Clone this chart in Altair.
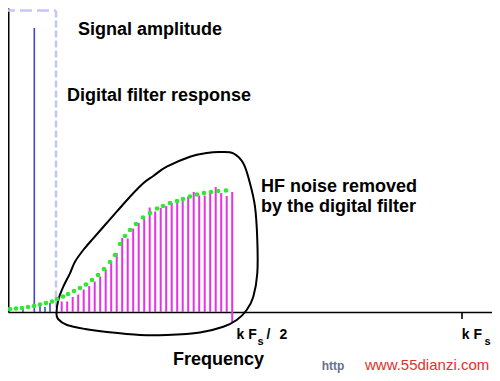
import altair as alt
import pandas as pd

# ---- data (frequency in arbitrary units, amplitude above baseline) ----
bar_freq = [61.7, 67.2, 72.7, 78.2, 83.7, 89.2, 94.7, 100.2, 105.7, 111.2, 116.7,
            122.2, 127.7, 133.2, 138.7, 144.2, 149.7, 155.2, 160.7, 166.2, 171.7,
            177.2, 182.7, 188.2, 193.7, 199.2, 204.7, 210.2, 215.7, 221.2, 226.7, 232.2]
bar_amp = [10.5, 10.5, 15, 17.5, 22.5, 26, 30.5, 35.5, 42.5, 50.5, 59,
           74, 73.5, 83.5, 89, 93.5, 104.5, 100.5, 104, 106, 109,
           112, 113, 115.5, 120, 116.5, 116.5, 119, 125, 119, 116, 120]

dot_freq = [4, 10, 16, 22, 28, 34, 40, 46, 52, 57, 63, 68, 74, 80, 86, 92, 98, 104,
            110, 115, 120, 125, 130, 136, 143, 150, 157, 163, 170, 177, 183, 190,
            197, 204, 211, 218, 226]
dot_amp = [3, 3, 3.5, 4, 5, 6, 7.5, 9, 10.5, 13, 15.5, 18, 21, 24, 27.5, 32, 37, 43,
           50, 57, 68, 76, 82, 88, 94.5, 99, 103.5, 106, 109, 111, 113, 115.5,
           117.5, 119, 120, 121, 121.5]

leak_freq = [23, 40, 45, 50]
leak_amp = [4, 6, 5, 9]

signal_freq = [34.3]
signal_amp = [284]

filter_start = 3
filter_edge = 56
filter_level = 301.5

blob_freq = [58.3, 63.3, 70, 75, 83.3, 93.3, 105, 116.7, 130, 143.3, 153.3, 166.7,
             190, 206.7, 220, 233.3, 243.3, 250, 255, 257.3, 257.3, 253.3, 246.7,
             236.7, 223.3, 200, 166.7, 140, 107, 85, 67, 58, 56.5]
blob_amp = [12, 25.3, 38.7, 50.3, 62, 73.7, 87, 100.3, 115.3, 128.7, 136, 145.3,
            155.3, 159, 160, 158.7, 148.7, 128.7, 105.3, 72, 38.7, 15.3, 2,
            -8, -14.7, -20.5, -23, -23, -20, -17, -13, -7, -1]

kfs_half = 232.2
kfs = 462

bold_labels = [
    {"t": "Signal amplitude", "f": 78, "a": 277, "size": 18, "c": "black"},
    {"t": "Digital filter response", "f": 67, "a": 211.3, "size": 18, "c": "black"},
    {"t": "HF noise removed", "f": 261, "a": 120.3, "size": 18, "c": "black"},
    {"t": "by the digital filter", "f": 261, "a": 100.3, "size": 18, "c": "black"},
    {"t": "k F", "f": 236.5, "a": -27.3, "size": 14, "c": "black"},
    {"t": "s", "f": 257.5, "a": -33, "size": 11, "c": "black"},
    {"t": "/", "f": 266.5, "a": -27.3, "size": 14, "c": "black"},
    {"t": "2", "f": 279.5, "a": -27.3, "size": 14, "c": "black"},
    {"t": "k F", "f": 461.7, "a": -27.3, "size": 14, "c": "black"},
    {"t": "s", "f": 484.5, "a": -33, "size": 11, "c": "black"},
    {"t": "Frequency", "f": 173, "a": -53, "size": 18, "c": "black"},
    {"t": "http", "f": 321.7, "a": -57.5, "size": 12, "c": "#68708c"},
]
plain_labels = [
    {"t": "www.55dianzi.com", "f": 365, "a": -57.5, "size": 15, "c": "#e4302c"},
]

# ---- scales / axes ----
xs = alt.Scale(domain=[8, 492], nice=False, zero=False)
ys = alt.Scale(domain=[0, 304], nice=False, zero=False)
xaxis = alt.Axis(domain=True, ticks=False, labels=False, grid=False,
                 domainColor="black", domainWidth=1.6)
yaxis = alt.Axis(domain=True, ticks=False, labels=False, grid=False,
                 domainColor="black", domainWidth=2)


def X(field="f"):
    return alt.X(f"{field}:Q", scale=xs, axis=xaxis, title="")


def Y(field="a"):
    return alt.Y(f"{field}:Q", scale=ys, axis=yaxis, title="")


bars_df = pd.DataFrame({"f": bar_freq, "a": bar_amp, "z": [0] * len(bar_freq)})
dots_df = pd.DataFrame({"f": dot_freq, "a": dot_amp})
leak_df = pd.DataFrame({"f": leak_freq, "a": leak_amp, "z": [0] * len(leak_freq)})
sig_df = pd.DataFrame({"f": signal_freq, "a": signal_amp, "z": [0]})
blob_df = pd.DataFrame({"f": blob_freq, "a": blob_amp, "i": list(range(len(blob_freq)))})
ftop_df = pd.DataFrame({"f": [filter_start], "f2": [filter_edge], "a": [filter_level]})
fside_df = pd.DataFrame({"f": [filter_edge], "a": [filter_level], "z": [0]})
tick_half_df = pd.DataFrame({"f": [kfs_half], "a": [0], "z": [-10]})
tick_full_df = pd.DataFrame({"f": [kfs], "a": [0], "z": [-7]})

base_rule = alt.Chart(bars_df).mark_rule(color="#e632e6", strokeWidth=2).encode(
    x=X(), y=Y(), y2="z:Q")

filter_side = alt.Chart(fside_df).mark_rule(
    color="#c6c6f4", strokeWidth=2.5, strokeDash=[7, 3]).encode(x=X(), y=Y(), y2="z:Q")
filter_top = alt.Chart(ftop_df).mark_rule(
    color="#c6c6f4", strokeWidth=2.5, strokeDash=[12, 5]).encode(x=X(), x2="f2:Q", y=Y())

signal = alt.Chart(sig_df).mark_rule(color="#4646c8", strokeWidth=1.6).encode(
    x=X(), y=Y(), y2="z:Q")
leak = alt.Chart(leak_df).mark_rule(color="#4646c8", strokeWidth=1.6).encode(
    x=X(), y=Y(), y2="z:Q")

tick_half = alt.Chart(tick_half_df).mark_rule(color="#e632e6", strokeWidth=2).encode(
    x=X(), y=Y(), y2="z:Q")
tick_full = alt.Chart(tick_full_df).mark_rule(color="black", strokeWidth=1.6).encode(
    x=X(), y=Y(), y2="z:Q")

blob = alt.Chart(blob_df).mark_line(
    color="black", strokeWidth=2, interpolate="cardinal-closed").encode(
    x=X(), y=Y(), order="i:Q")

dots = alt.Chart(dots_df).mark_circle(color="#2fe82f", size=22, opacity=1).encode(
    x=X(), y=Y())


def text_layer(rows, weight):
    return alt.Chart(pd.DataFrame(rows)).mark_text(
        align="left", baseline="alphabetic", font="Liberation Sans",
        fontWeight=weight).encode(
        x=X(), y=Y(), text="t:N",
        size=alt.Size("size:Q", scale=None, legend=None),
        color=alt.Color("c:N", scale=None, legend=None),
    )


chart = alt.layer(
    base_rule, filter_side, filter_top, leak, signal, tick_half, tick_full,
    blob, dots, text_layer(bold_labels, "bold"), text_layer(plain_labels, "normal")
).properties(
    width=484, height=304,
    autosize=alt.AutoSizeParams(type="none"),
    padding={"left": 0, "top": 0, "right": 0, "bottom": 61},
    background="white",
).configure_view(stroke=None)

chart.save("out.html", embed_options={"renderer": "svg", "actions": False})
